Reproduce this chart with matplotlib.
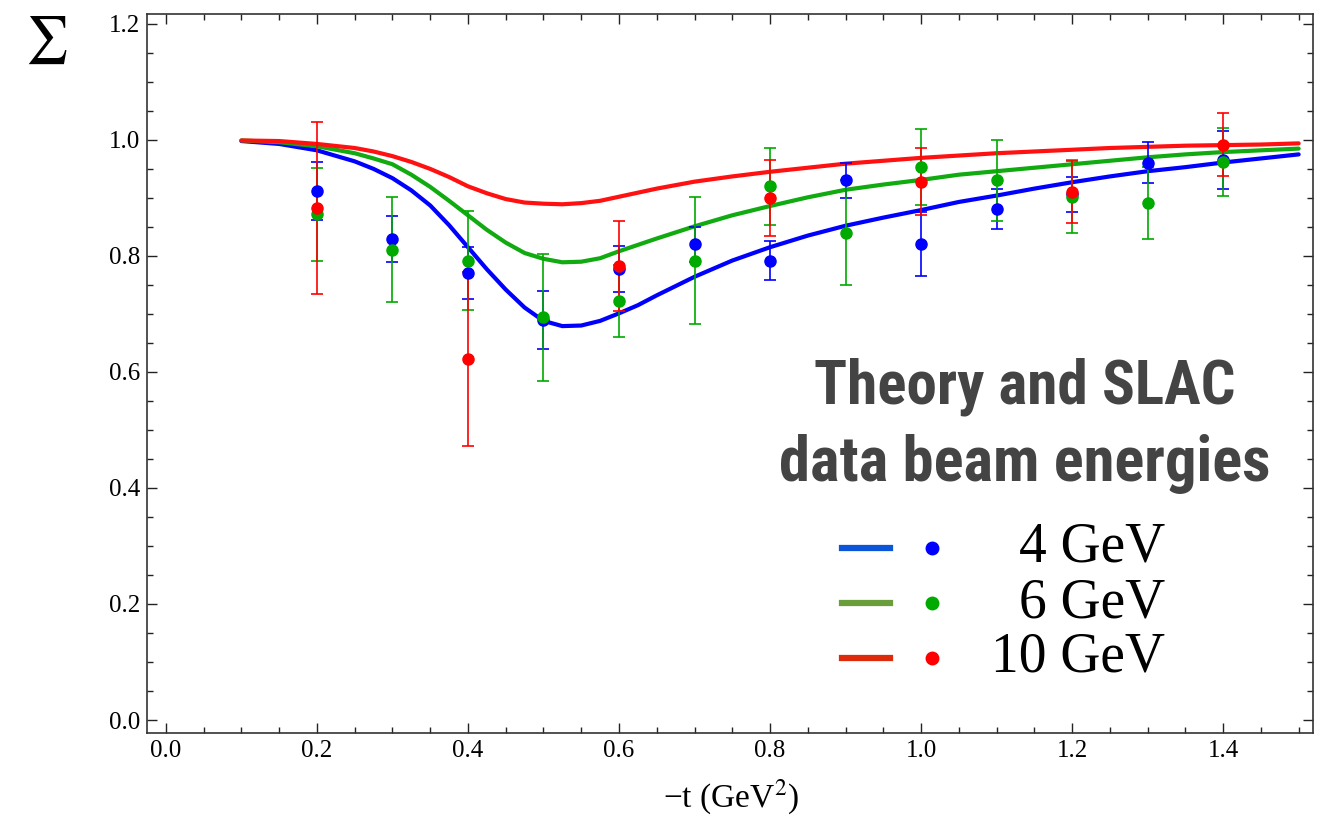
import matplotlib
matplotlib.use("Agg")
import matplotlib.pyplot as plt
from matplotlib import font_manager
from matplotlib.lines import Line2D
from matplotlib.ticker import MultipleLocator

# -------------------------------
# Theory curves
# -------------------------------
t_curve = [0.10, 0.15, 0.20, 0.25, 0.275, 0.30, 0.325, 0.35, 0.375, 0.40, 0.425,
           0.45, 0.475, 0.50, 0.525, 0.55, 0.575, 0.60, 0.625, 0.65, 0.70, 0.75,
           0.80, 0.85, 0.90, 0.95, 1.00, 1.05, 1.10, 1.15, 1.20, 1.25, 1.30,
           1.35, 1.40, 1.45, 1.50]
curve_4 = [0.998, 0.993, 0.982, 0.963, 0.950, 0.934, 0.913, 0.887, 0.853, 0.815, 0.777,
           0.742, 0.711, 0.688, 0.679, 0.680, 0.688, 0.701, 0.715, 0.732, 0.764, 0.792,
           0.815, 0.835, 0.852, 0.866, 0.879, 0.893, 0.904, 0.916, 0.927, 0.937, 0.946,
           0.953, 0.961, 0.968, 0.975]
curve_6 = [0.999, 0.996, 0.989, 0.977, 0.968, 0.958, 0.940, 0.919, 0.895, 0.870, 0.845,
           0.823, 0.805, 0.795, 0.789, 0.790, 0.796, 0.808, 0.819, 0.830, 0.851, 0.870,
           0.886, 0.901, 0.914, 0.923, 0.931, 0.940, 0.946, 0.952, 0.958, 0.964, 0.970,
           0.975, 0.979, 0.982, 0.985]
curve_10 = [0.999, 0.998, 0.993, 0.986, 0.980, 0.972, 0.962, 0.950, 0.936, 0.920, 0.908,
            0.898, 0.892, 0.890, 0.889, 0.891, 0.895, 0.902, 0.909, 0.916, 0.928, 0.937,
            0.945, 0.952, 0.959, 0.964, 0.969, 0.973, 0.977, 0.980, 0.983, 0.986, 0.988,
            0.990, 0.991, 0.992, 0.994]

# -------------------------------
# SLAC data points
# -------------------------------
t_4 = [0.2, 0.3, 0.4, 0.5, 0.6, 0.7, 0.8, 0.9, 1.0, 1.1, 1.2, 1.3, 1.4]
sig_4 = [0.912, 0.829, 0.770, 0.690, 0.777, 0.820, 0.792, 0.930, 0.820, 0.881, 0.906, 0.961, 0.965]
err_4 = [0.050, 0.040, 0.045, 0.050, 0.040, 0.030, 0.034, 0.030, 0.055, 0.034, 0.030, 0.035, 0.050]

t_6 = [0.2, 0.3, 0.4, 0.5, 0.6, 0.7, 0.8, 0.9, 1.0, 1.1, 1.2, 1.3, 1.4]
sig_6 = [0.872, 0.811, 0.792, 0.694, 0.722, 0.792, 0.920, 0.840, 0.953, 0.930, 0.902, 0.892, 0.962]
err_6 = [0.080, 0.090, 0.085, 0.110, 0.062, 0.110, 0.066, 0.090, 0.066, 0.070, 0.063, 0.062, 0.058]

t_10 = [0.2, 0.4, 0.6, 0.8, 1.0, 1.2, 1.4]
sig_10 = [0.882, 0.622, 0.783, 0.900, 0.928, 0.910, 0.992]
err_10 = [0.148, 0.150, 0.078, 0.065, 0.058, 0.054, 0.055]

legend_labels = ["4 GeV", "6 GeV", "10 GeV"]

# -------------------------------
# Fonts
# -------------------------------
installed = {f.name for f in font_manager.fontManager.ttflist}
serif = "Liberation Serif" if "Liberation Serif" in installed else "DejaVu Serif"
narrow = next((f for f in ["Liberation Sans Narrow", "Roboto Condensed", "Roboto", "Liberation Sans"]
               if f in installed), "DejaVu Sans")
plt.rcParams["font.family"] = serif
plt.rcParams["mathtext.fontset"] = "stix"

W, H = 1326, 817
fig = plt.figure(figsize=(W / 100, H / 100), dpi=100)
ax = fig.add_axes([147 / W, 1 - 733 / H, (1313 - 147) / W, (733 - 14) / H])

line_cols = ["#0000ff", "#11aa11", "#ff1111"]
dot_cols = ["#0000ff", "#00aa00", "#ff0000"]

for y, c in zip([curve_4, curve_6, curve_10], line_cols):
    ax.plot(t_curve, y, color=c, lw=3, zorder=2, solid_capstyle="round",
            solid_joinstyle="round")

for t, s, e, c in [(t_4, sig_4, err_4, dot_cols[0]),
                   (t_6, sig_6, err_6, dot_cols[1]),
                   (t_10, sig_10, err_10, dot_cols[2])]:
    ax.errorbar(t, s, yerr=e, fmt="o", color=c, ms=8, elinewidth=1.2,
                capsize=4, capthick=1.2, zorder=3)

ax.set_xlim(-0.025, 1.519)
ax.set_ylim(-0.0224, 1.217)
ax.xaxis.set_major_locator(MultipleLocator(0.2))
ax.xaxis.set_minor_locator(MultipleLocator(0.05))
ax.yaxis.set_major_locator(MultipleLocator(0.2))
ax.yaxis.set_minor_locator(MultipleLocator(0.05))
ax.xaxis.set_major_formatter(plt.FuncFormatter(lambda v, p: f"{v:.1f}"))
ax.yaxis.set_major_formatter(plt.FuncFormatter(lambda v, p: f"{v:.1f}"))
ax.tick_params(which="both", direction="in", top=True, right=True, width=1.0, color="#222222")
ax.tick_params(which="major", length=7, labelsize=18, pad=5)
ax.tick_params(which="minor", length=4)
for sp in ax.spines.values():
    sp.set_color("#333333")
    sp.set_linewidth(1.2)

fig.text(731 / W, 1 - 797 / H, "\u2212t (GeV$^2$)", ha="center", va="center", fontsize=24)
fig.text(47 / W, 1 - 40 / H, "\u2211", ha="center", va="center", fontsize=34,
         family="STIXGeneral")

# -------------------------------
# Hand-made legend block
# -------------------------------
fig.text(1025 / W, 1 - 387 / H, "Theory and SLAC", ha="center", va="center",
         fontsize=44, fontweight="bold", family=narrow, color="#444444")
fig.text(1025 / W, 1 - 464 / H, "data beam energies", ha="center", va="center",
         fontsize=45, fontweight="bold", family=narrow, color="#444444")

leg_line_cols = ["#0a55d8", "#6a9e3a", "#dd2a0a"]
rows = [548, 603, 658]
for yy, lc, dc, lab in zip(rows, leg_line_cols, dot_cols, legend_labels):
    yf = 1 - yy / H
    fig.add_artist(Line2D([842 / W, 890 / W], [yf, yf], color=lc, lw=4.5,
                          transform=fig.transFigure))
    fig.add_artist(Line2D([932 / W], [yf], marker="o", ms=9, color=dc, ls="none",
                          transform=fig.transFigure))
    fig.text(1165 / W, yf, lab, ha="right", va="center", fontsize=40)

fig.savefig("out.png", dpi=100)
